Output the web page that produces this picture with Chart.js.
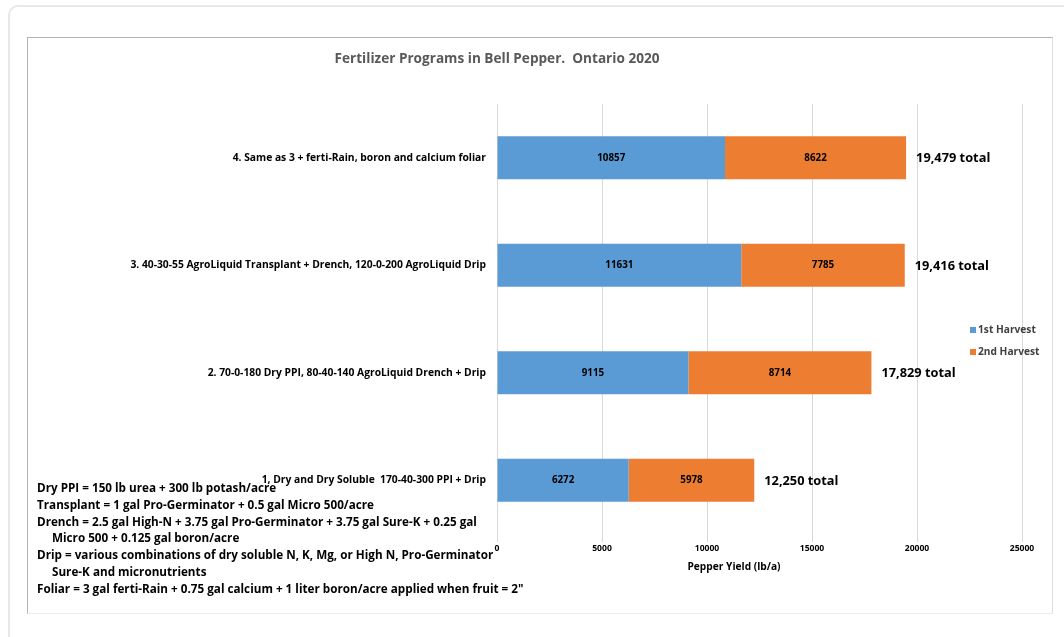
<!DOCTYPE html>
<html>
<head>
<meta charset="utf-8">
<script src="https://cdn.jsdelivr.net/npm/chart.js@4.4.1/dist/chart.umd.min.js"></script>
<style>
  html, body { margin: 0; padding: 0; background: #fff; width: 1064px; height: 637px; overflow: hidden; }
  .card { position: absolute; left: 8px; top: 5px; width: 1100px; height: 700px; border: 2px solid #e8e8e8; border-radius: 10px; }
  .frame { position: absolute; left: 27px; top: 37px; width: 1024px; height: 575px; border: 1px solid; border-color: #b4b4b4 #dedede #ececec #b4b4b4; }
  .frame canvas { display: block; }
</style>
</head>
<body>
<div class="card"></div>
<div class="frame"><canvas id="chart" width="1024" height="575"></canvas></div>
<script>
// values
const programs = [
  '4. Same as 3 + ferti-Rain, boron and calcium foliar',
  '3. 40-30-55 AgroLiquid Transplant + Drench, 120-0-200 AgroLiquid Drip',
  '2. 70-0-180 Dry PPI, 80-40-140 AgroLiquid Drench + Drip',
  '1, Dry and Dry Soluble  170-40-300 PPI + Drip'
];
const firstHarvest = [10857, 11631, 9115, 6272];
const secondHarvest = [8622, 7785, 8714, 5978];
const xTicks = [0, 5000, 10000, 15000, 20000, 25000];

const chartTitle = 'Fertilizer Programs in Bell Pepper.  Ontario 2020';
const xTitle = 'Pepper Yield (lb/a)';
const notes = [
  ['Dry PPI = 150 lb urea + 300 lb potash/acre', 0],
  ['Transplant = 1 gal Pro-Germinator + 0.5 gal Micro 500/acre', 0],
  ['Drench = 2.5 gal High-N + 3.75 gal Pro-Germinator + 3.75 gal Sure-K + 0.25 gal', 0],
  ['Micro 500 + 0.125 gal boron/acre', 1],
  ['Drip = various combinations of dry soluble N, K, Mg, or High N, Pro-Germinator', 0],
  ['Sure-K and micronutrients', 1],
  ['Foliar = 3 gal ferti-Rain + 0.75 gal calcium + 1 liter boron/acre applied when fruit = 2"', 0]
];

const FONT = '"Open Sans", "Noto Sans", sans-serif';

const extras = {
  id: 'extras',
  afterDatasetsDraw(chart) {
    const ctx = chart.ctx;
    ctx.save();
    ctx.textBaseline = 'middle';
    // values inside segments
    ctx.textAlign = 'center';
    ctx.fillStyle = '#000';
    ctx.font = 'bold 9.8px ' + FONT;
    chart.data.datasets.forEach((ds, di) => {
      chart.getDatasetMeta(di).data.forEach((el, i) => {
        ctx.fillText(String(ds.data[i]), (el.x + el.base) / 2, el.y);
      });
    });
    // totals
    ctx.textAlign = 'left';
    ctx.font = 'bold 12.8px ' + FONT;
    const last = chart.getDatasetMeta(chart.data.datasets.length - 1);
    last.data.forEach((el, i) => {
      const total = firstHarvest[i] + secondHarvest[i];
      ctx.fillText(total.toLocaleString('en-US') + ' total', el.x + 10, el.y + 1);
    });
    ctx.restore();
  },
  afterDraw(chart) {
    const ctx = chart.ctx;
    ctx.save();
    ctx.textBaseline = 'middle';
    // title
    ctx.textAlign = 'center';
    ctx.fillStyle = '#595959';
    ctx.font = 'bold 13.6px ' + FONT;
    ctx.fillText(chartTitle, 469, 21);
    // x axis title
    ctx.fillStyle = '#000';
    ctx.font = 'bold 10.2px ' + FONT;
    ctx.fillText(xTitle, 706, 529);
    // legend
    ctx.textAlign = 'left';
    ctx.font = 'bold 10.2px ' + FONT;
    chart.data.datasets.forEach((ds, di) => {
      const y = 292 + di * 22;
      ctx.fillStyle = ds.backgroundColor;
      ctx.fillRect(942, y - 3, 6, 6);
      ctx.fillStyle = '#404040';
      ctx.fillText(ds.label, 950, y);
    });
    // notes
    ctx.fillStyle = '#000';
    ctx.font = 'bold 11.7px ' + FONT;
    notes.forEach(([t, indent], i) => {
      ctx.fillText(t, 9 + indent * 15, 451 + i * 16.7);
    });
    ctx.restore();
  }
};

new Chart(document.getElementById('chart'), {
  type: 'bar',
  data: {
    labels: programs,
    datasets: [
      { label: '1st Harvest', data: firstHarvest, backgroundColor: '#5b9bd5' },
      { label: '2nd Harvest', data: secondHarvest, backgroundColor: '#ed7d31' }
    ]
  },
  options: {
    indexAxis: 'y',
    responsive: false,
    animation: false,
    categoryPercentage: 1,
    barPercentage: 0.4,
    layout: { padding: { top: 66, right: 30, left: 0, bottom: 0 } },
    plugins: { legend: { display: false }, title: { display: false }, tooltip: { enabled: false } },
    scales: {
      x: {
        stacked: true,
        min: 0,
        max: 25000,
        afterBuildTicks(scale) { scale.ticks = xTicks.map(v => ({ value: v })); },
        afterFit(scale) { scale.height = 79; },
        grid: { color: '#d9d9d9', tickLength: 8, tickColor: '#d9d9d9' },
        border: { display: false },
        ticks: { color: '#000', padding: 1, font: { family: FONT, size: 8.6, weight: 'bold' }, callback: v => String(v) }
      },
      y: {
        stacked: true,
        afterFit(scale) { scale.width = 469; },
        grid: { display: false, drawTicks: false },
        border: { display: true, color: '#d9d9d9' },
        ticks: { color: '#000', padding: 11, font: { family: FONT, size: 10.3, weight: 'bold' } }
      }
    }
  },
  plugins: [extras]
});
</script>
</body>
</html>
